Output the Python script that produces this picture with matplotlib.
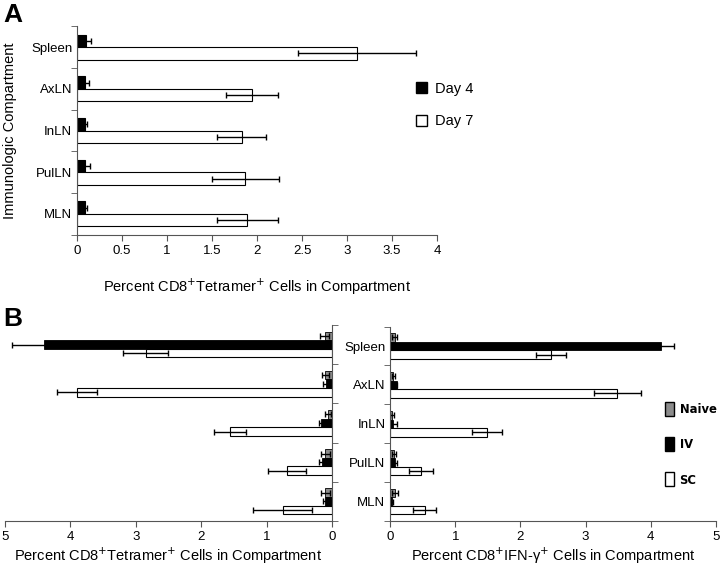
import numpy as np
import matplotlib
matplotlib.use("Agg")
from matplotlib import pyplot as plt
from matplotlib.patches import Patch
from matplotlib import font_manager

plt.rcParams['font.family'] = ['Liberation Sans', 'DejaVu Sans']

compartments = ["Spleen", "AxLN", "InLN", "PulLN", "MLN"]

# panel A: tetramer+ cells, day 4 vs day 7
day4 = [0.10, 0.09, 0.09, 0.09, 0.09]
day4_err = [0.05, 0.04, 0.02, 0.05, 0.02]
day7 = [3.11, 1.94, 1.83, 1.87, 1.89]
day7_err = [0.66, 0.29, 0.27, 0.37, 0.34]

# panel B left: tetramer+ cells
tet_naive = [0.11, 0.10, 0.06, 0.10, 0.10]
tet_naive_err = [0.07, 0.05, 0.05, 0.07, 0.07]
tet_iv = [4.41, 0.09, 0.16, 0.15, 0.11]
tet_iv_err = [0.48, 0.04, 0.04, 0.04, 0.03]
tet_sc = [2.85, 3.90, 1.56, 0.69, 0.75]
tet_sc_err = [0.35, 0.31, 0.25, 0.29, 0.45]

# panel B right: IFN-gamma+ cells
ifn_naive = [0.07, 0.05, 0.03, 0.06, 0.07]
ifn_naive_err = [0.04, 0.03, 0.03, 0.03, 0.05]
ifn_iv = [4.16, 0.10, 0.05, 0.07, 0.03]
ifn_iv_err = [0.20, 0.01, 0.05, 0.03, 0.02]
ifn_sc = [2.47, 3.49, 1.48, 0.47, 0.53]
ifn_sc_err = [0.23, 0.36, 0.23, 0.18, 0.18]

GRAY = "#8c8c8c"
ek = dict(ecolor="black", elinewidth=1.0, capsize=2.5, capthick=1.0)

# narrow bold font for the B legend, if one is around
names = {f.name for f in font_manager.fontManager.ttflist}
if "Liberation Sans Narrow" in names:
    leg_font = dict(family="Liberation Sans Narrow", weight="bold", size=10.5)
else:
    leg_font = dict(family="DejaVu Sans", stretch="condensed", weight="bold", size=9.3)


def style_axis(ax, side):
    y = np.arange(len(compartments))
    ax.set_ylim(len(compartments) - 0.5, -0.5)
    ax.set_yticks(y)
    ax.set_yticks(np.arange(len(compartments) + 1) - 0.5, minor=True)
    ax.tick_params(axis="y", which="major", length=0, labelsize=9.5)
    ax.tick_params(axis="y", which="minor", length=4, color="#555555")
    ax.tick_params(axis="x", length=4, labelsize=9.5, color="#555555")
    for s in ["top", "left", "right"]:
        ax.spines[s].set_visible(False)
    ax.spines[side].set_visible(True)
    ax.spines[side].set_color("#555555")
    ax.spines["bottom"].set_color("#555555")


fig = plt.figure(figsize=(7.2, 5.7), dpi=100)

# ---- panel A
axA = fig.add_axes([0.107, 0.588, 0.500, 0.366])
y = np.arange(len(compartments))
h = 0.3
axA.barh(y - h / 2, day4, h, xerr=day4_err, color="black", edgecolor="black",
         linewidth=0.8, error_kw=ek)
axA.barh(y + h / 2, day7, h, xerr=day7_err, color="white", edgecolor="black",
         linewidth=0.8, error_kw=ek)
style_axis(axA, "left")
axA.set_yticklabels(compartments)
axA.set_xlim(0, 4)
axA.set_xticks(np.arange(0, 4.01, 0.5))
axA.set_xticklabels(["0", "0.5", "1", "1.5", "2", "2.5", "3", "3.5", "4"])
axA.set_ylabel("Immunologic Compartment", fontsize=10.5, labelpad=10)
axA.set_xlabel("Percent CD8$^{+}$Tetramer$^{+}$ Cells in Compartment",
               fontsize=10.5, labelpad=14)
fig.legend(handles=[Patch(facecolor="black", edgecolor="black", label="Day 4"),
                    Patch(facecolor="white", edgecolor="black", label="Day 7")],
           loc="upper left", bbox_to_anchor=(0.56, 0.88), frameon=False,
           fontsize=10.5, handlelength=0.75, handleheight=0.75,
           handletextpad=0.5, labelspacing=1.3)
fig.text(0.005, 0.995, "A", fontsize=19, fontweight="bold", va="top")

# ---- panel B
hb = 0.22
axL = fig.add_axes([0.007, 0.086, 0.454, 0.344])
axL.barh(y - hb, tet_naive, hb, xerr=tet_naive_err, color=GRAY, edgecolor="black",
         linewidth=0.6, error_kw=ek)
axL.barh(y, tet_iv, hb, xerr=tet_iv_err, color="black", edgecolor="black",
         linewidth=0.6, error_kw=ek)
axL.barh(y + hb, tet_sc, hb, xerr=tet_sc_err, color="white", edgecolor="black",
         linewidth=0.8, error_kw=ek)
style_axis(axL, "right")
axL.yaxis.tick_right()
axL.set_yticklabels([])
axL.set_xlim(5, 0)
axL.set_xticks(range(6))
axL.set_xlabel("Percent CD8$^{+}$Tetramer$^{+}$ Cells in Compartment",
               fontsize=10.5, labelpad=2)

axR = fig.add_axes([0.542, 0.086, 0.452, 0.341])
axR.barh(y - hb, ifn_naive, hb, xerr=ifn_naive_err, color=GRAY, edgecolor="black",
         linewidth=0.6, error_kw=ek)
axR.barh(y, ifn_iv, hb, xerr=ifn_iv_err, color="black", edgecolor="black",
         linewidth=0.6, error_kw=ek)
axR.barh(y + hb, ifn_sc, hb, xerr=ifn_sc_err, color="white", edgecolor="black",
         linewidth=0.8, error_kw=ek)
style_axis(axR, "left")
axR.set_yticklabels(compartments)
axR.set_xlim(0, 5)
axR.set_xticks(range(6))
axR.set_xlabel("Percent CD8$^{+}$IFN-\u03b3$^{+}$ Cells in Compartment",
               fontsize=10.5, labelpad=2)
fig.legend(handles=[Patch(facecolor=GRAY, edgecolor="black", label="Naive"),
                    Patch(facecolor="black", edgecolor="black", label="IV"),
                    Patch(facecolor="white", edgecolor="black", label="SC")],
           loc="upper left", bbox_to_anchor=(0.908, 0.315), frameon=False,
           prop=leg_font, handlelength=0.7, handleheight=1.3,
           handletextpad=0.4, labelspacing=1.6)
fig.text(0.005, 0.462, "B", fontsize=19, fontweight="bold", va="top")

fig.savefig("out.png", dpi=100)
